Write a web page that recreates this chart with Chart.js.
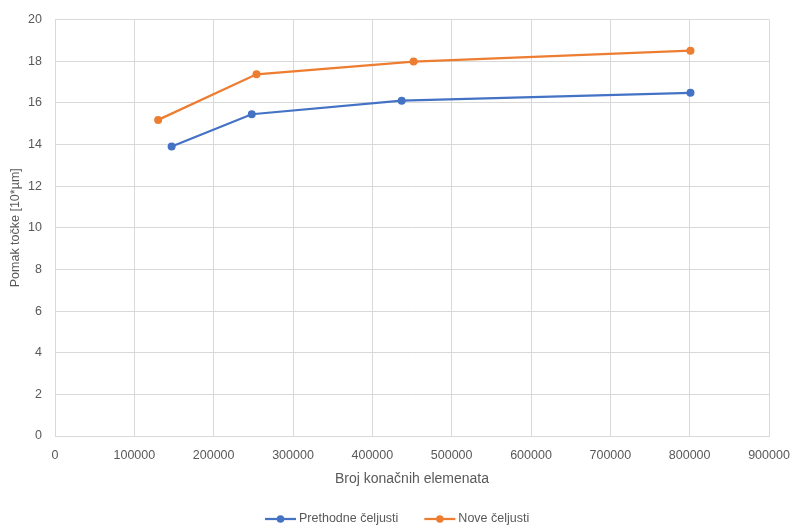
<!DOCTYPE html>
<html>
<head>
<meta charset="utf-8">
<script src="https://cdn.jsdelivr.net/npm/chart.js@4/dist/chart.umd.min.js"></script>
<style>
  html, body { margin: 0; padding: 0; background: #fff; }
  #wrap { width: 790px; height: 526px; position: relative; }
</style>
</head>
<body>
<div id="wrap"><canvas id="c" width="790" height="526"></canvas></div>
<script>
const seriesNames = ['Prethodne čeljusti', 'Nove čeljusti'];
const prevX = [147000, 248000, 437000, 801000];
const prevY = [13.9, 15.45, 16.1, 16.48];
const newX = [130000, 254000, 452000, 801000];
const newY = [15.18, 17.37, 17.98, 18.5];
const xTitle = 'Broj konačnih elemenata';
const yTitle = 'Pomak točke [10*µm]';

const colors = ['#4472C4', '#ED7D31'];
const textColor = '#595959';
const gridColor = '#D9D9D9';
const fontFamily = '"Liberation Sans", Arial, sans-serif';

function pts(xs, ys) { return xs.map((x, i) => ({ x: x, y: ys[i] })); }

const legendPlugin = {
  id: 'customLegend',
  afterDraw(chart) {
    const ctx = chart.ctx;
    ctx.save();
    ctx.font = '12.5px ' + fontFamily;
    ctx.textBaseline = 'middle';
    const y = 519;
    const items = chart.data.datasets.map(d => ({ label: d.label, color: d.borderColor }));
    const markerW = 31, gap = 3, itemGap = 26;
    let x = 265;
    items.forEach((it) => {
      ctx.strokeStyle = it.color;
      ctx.lineWidth = 2.25;
      ctx.beginPath();
      ctx.moveTo(x, y);
      ctx.lineTo(x + markerW, y);
      ctx.stroke();
      ctx.fillStyle = it.color;
      ctx.beginPath();
      ctx.arc(x + markerW / 2, y, 3.8, 0, Math.PI * 2);
      ctx.fill();
      x += markerW + gap;
      ctx.fillStyle = textColor;
      ctx.textAlign = 'left';
      ctx.fillText(it.label, x, y);
      x += ctx.measureText(it.label).width + itemGap;
    });
    ctx.restore();
  }
};

new Chart(document.getElementById('c'), {
  type: 'scatter',
  data: {
    datasets: [
      {
        label: seriesNames[0],
        data: pts(prevX, prevY),
        showLine: true,
        borderColor: colors[0],
        backgroundColor: colors[0],
        borderWidth: 2.25,
        pointRadius: 4,
        pointHoverRadius: 4,
        pointBorderWidth: 0
      },
      {
        label: seriesNames[1],
        data: pts(newX, newY),
        showLine: true,
        borderColor: colors[1],
        backgroundColor: colors[1],
        borderWidth: 2.25,
        pointRadius: 4,
        pointHoverRadius: 4,
        pointBorderWidth: 0
      }
    ]
  },
  options: {
    responsive: false,
    animation: false,
    devicePixelRatio: 1,
    layout: { padding: { left: 0, right: 21, top: 19.5, bottom: 30 } },
    plugins: {
      legend: { display: false },
      tooltip: { enabled: false }
    },
    scales: {
      x: {
        type: 'linear',
        min: 0,
        max: 900000,
        afterFit(scale) { scale.height = 60; scale.paddingRight = 0; scale.paddingLeft = 0; },
        ticks: {
          stepSize: 100000,
          color: textColor,
          padding: 12,
          font: { size: 12.5, family: fontFamily },
          maxRotation: 0,
          callback: v => String(v)
        },
        grid: { color: gridColor, lineWidth: 1, drawTicks: false },
        border: { color: gridColor, width: 1 },
        title: {
          display: true,
          text: xTitle,
          color: textColor,
          font: { size: 14, family: fontFamily },
          padding: { top: 0, bottom: 8 }
        }
      },
      y: {
        min: 0,
        max: 20,
        afterFit(scale) { scale.width = 55; scale.paddingTop = 0; scale.paddingBottom = 0; },
        ticks: {
          stepSize: 2,
          color: textColor,
          padding: 13,
          font: { size: 12.5, family: fontFamily }
        },
        grid: { color: gridColor, lineWidth: 1, drawTicks: false },
        border: { color: gridColor, width: 1 },
        title: {
          display: true,
          text: yTitle,
          color: textColor,
          font: { size: 12.5, family: fontFamily },
          padding: { top: 8.5, bottom: 0 }
        }
      }
    }
  },
  plugins: [legendPlugin]
});
</script>
</body>
</html>
